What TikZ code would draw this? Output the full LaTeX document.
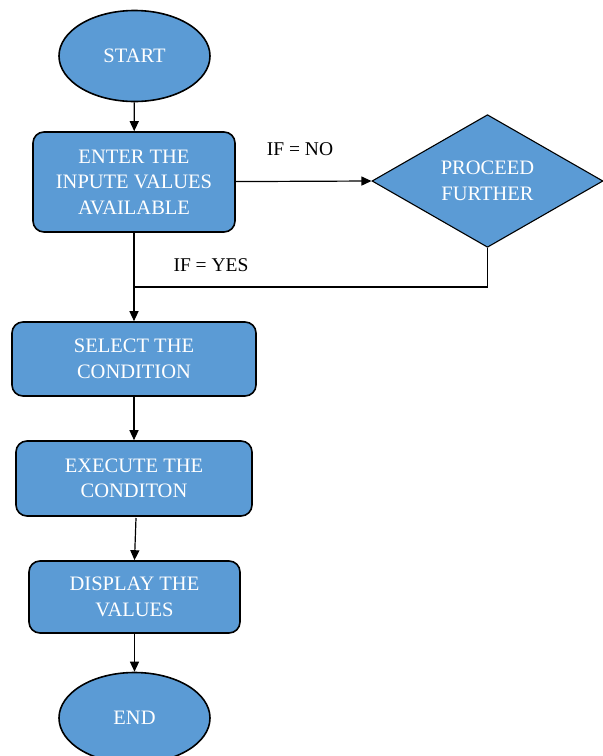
\documentclass[tikz,border=0pt]{standalone}
\usepackage{fontspec}
\setmainfont{Liberation Serif}
\usetikzlibrary{shapes.geometric,arrows.meta}

\definecolor{boxblue}{HTML}{5B9BD5}

\tikzset{
  boxtext/.style={font=\fontsize{20.5}{25.5}\selectfont},
  proc/.style={boxtext,draw,line width=1.6pt,rounded corners=11pt,fill=boxblue,text=white,align=center,inner sep=0pt},
  term/.style={boxtext,ellipse,draw,line width=1.6pt,fill=boxblue,text=white,inner sep=0pt,minimum width=151pt,minimum height=91pt},
  decide/.style={boxtext,diamond,draw,line width=1.1pt,fill=boxblue,text=white,align=center,inner sep=0pt,minimum width=231pt,minimum height=131pt},
  flow/.style={-{Triangle[length=10pt,width=9pt]},line width=1.2pt},
  lbl/.style={font=\fontsize{19.5}{23}\selectfont,inner sep=0pt},
}

\begin{document}
\begin{tikzpicture}[x=1pt,y=1pt]

\clip (0,0) rectangle (603,-756);

% boxes
\node [term] (start) at (134.5,-56) {START};
\node [proc,minimum width=202pt,minimum height=100pt] (enter) at (134,-182) {ENTER THE\\INPUTE VALUES\\AVAILABLE};
\node [decide] (proceed) at (487.5,-181) {PROCEED\\FURTHER};
\node [proc,minimum width=244pt,minimum height=74pt] (select) at (134,-359) {SELECT THE\\CONDITION};
\node [proc,minimum width=236pt,minimum height=75pt] (execute) at (134,-478.5) {EXECUTE THE\\CONDITON};
\node [proc,minimum width=211pt,minimum height=72pt] (display) at (134.5,-597) {DISPLAY THE\\VALUES};
\node [term] (end) at (134.5,-718) {END};

% labels
\node [lbl] (no) at (300,-149) {IF = NO};
\node [lbl] (yes) at (211,-265) {IF = YES};

% joins
\coordinate (join) at (134,-287);
\coordinate (down) at (136,-518);

% arrows
\draw [flow] (start) -- (enter);
\draw [flow] (enter) -- (proceed.west);
\draw [line width=1.2pt] (proceed.south) |- (join);
\draw [flow] (enter) -- (select);
\draw [flow] (select) -- (execute);
\draw [flow] (down) -- (display.north);
\draw [flow] (display.south) -- (end);

\end{tikzpicture}
\end{document}
